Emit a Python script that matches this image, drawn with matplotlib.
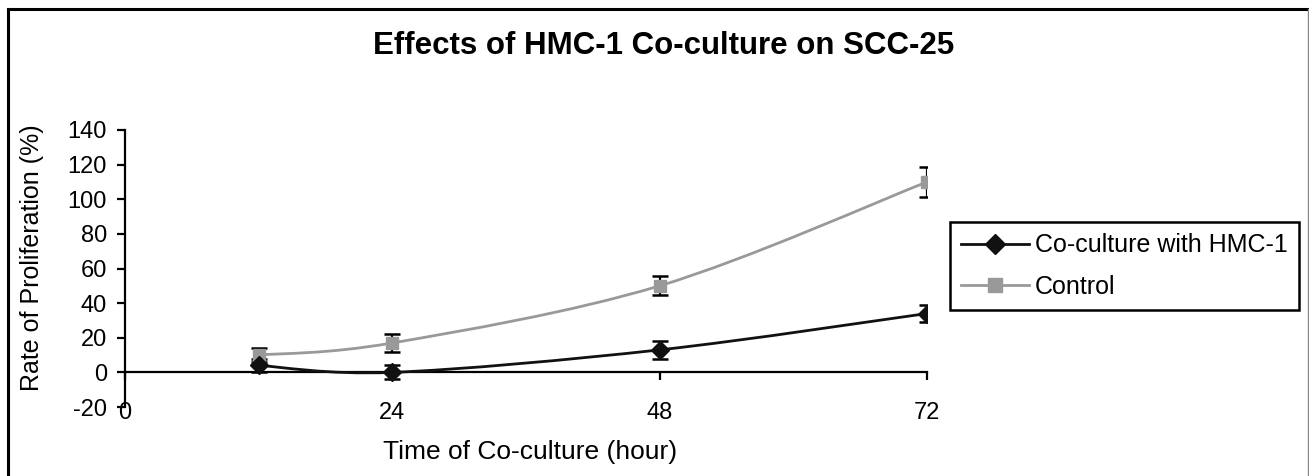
import numpy as np
import matplotlib
matplotlib.use('Agg')
import matplotlib.pyplot as plt
from matplotlib.path import Path
from matplotlib.patches import PathPatch
from matplotlib.lines import Line2D

hours = [12, 24, 48, 72]
coculture = [4, 0, 13, 34]
coculture_err = [4, 4, 5, 5]
control = [10, 17, 50, 110]
control_err = [4, 5, 5.5, 8.5]

FONT = ['Liberation Sans', 'DejaVu Sans']


def smooth_path(xs, ys):
    # Excel style smoothed line: cubic bezier with 1/6 tangents
    pts = np.column_stack([xs, ys]).astype(float)
    n = len(pts)
    verts = [pts[0]]
    codes = [Path.MOVETO]
    for i in range(n - 1):
        p_prev = pts[max(i - 1, 0)]
        p0 = pts[i]
        p1 = pts[i + 1]
        p_next = pts[min(i + 2, n - 1)]
        c1 = p0 + (p1 - p_prev) / 6.0
        c2 = p1 - (p_next - p0) / 6.0
        verts += [c1, c2, p1]
        codes += [Path.CURVE4] * 3
    return Path(verts, codes)


def draw_series(ax, ys, err, color, marker, ms):
    path = smooth_path(hours, ys)
    ax.add_patch(PathPatch(path, facecolor='none', edgecolor=color,
                           linewidth=2.0, zorder=3))
    ax.errorbar(hours, ys, yerr=err, fmt='none', ecolor='black',
                elinewidth=1.6, capsize=6, capthick=1.8, zorder=4)
    ax.plot(hours, ys, linestyle='none', marker=marker, markersize=ms,
            color=color, markeredgecolor=color, zorder=5)


fig = plt.figure(figsize=(13.09, 4.76), dpi=100)
ax = fig.add_axes([125 / 1309, 1 - 407 / 476, 802 / 1309, 277 / 476])

draw_series(ax, control, control_err, '#999999', 's', 9)
draw_series(ax, coculture, coculture_err, '#111111', 'D', 9)

ax.set_xlim(0, 72)
ax.set_ylim(-20, 140)
ax.set_xticks([0, 24, 48, 72])
ax.set_yticks(np.arange(-20, 141, 20))
ax.set_yticklabels([str(v) for v in np.arange(-20, 141, 20)])
ax.spines['top'].set_visible(False)
ax.spines['right'].set_visible(False)
ax.spines['bottom'].set_position(('data', 0))
ax.spines['bottom'].set_linewidth(1.6)
ax.spines['left'].set_linewidth(1.6)
ax.spines['bottom'].set_zorder(2)
ax.tick_params(axis='x', direction='out', length=6, width=1.6,
               pad=15, labelsize=17)
ax.tick_params(axis='y', direction='out', length=6, width=1.6,
               pad=7, labelsize=17)
for lab in ax.get_xticklabels() + ax.get_yticklabels():
    lab.set_family(FONT)
ax.patch.set_alpha(0)

fig.text(664 / 1309, 1 - 46 / 476, 'Effects of HMC-1 Co-culture on SCC-25',
         ha='center', va='center', fontsize=22.5, fontweight='bold',
         family=FONT)
fig.text(530 / 1309, 1 - 452 / 476, 'Time of Co-culture (hour)',
         ha='center', va='center', fontsize=19, family=FONT)
fig.text(32 / 1309, 1 - 258 / 476, 'Rate of Proliferation (%)',
         ha='center', va='center', rotation=90, fontsize=18, family=FONT)

handles = [
    Line2D([], [], color='#111111', linewidth=2.0, marker='D', markersize=10),
    Line2D([], [], color='#999999', linewidth=2.0, marker='s', markersize=10),
]
leg = fig.legend(handles, ['Co-culture with HMC-1', 'Control'],
                 loc='upper left', bbox_to_anchor=(950 / 1309, 1 - 222 / 476),
                 fancybox=False, shadow=False, framealpha=1,
                 edgecolor='black', handlelength=2.7, handletextpad=0.25,
                 borderpad=0.45, labelspacing=0.7, borderaxespad=0,
                 prop={'family': FONT, 'size': 18})
leg.get_frame().set_linewidth(1.8)

# outer chart border
fig.add_artist(Line2D([8 / 1309, 8 / 1309], [0, 1 - 9 / 476],
                      transform=fig.transFigure, color='black', linewidth=2.2))
fig.add_artist(Line2D([8 / 1309, 1307 / 1309], [1 - 9 / 476, 1 - 9 / 476],
                      transform=fig.transFigure, color='black', linewidth=2.2))
fig.add_artist(Line2D([1307.5 / 1309, 1307.5 / 1309], [0, 1 - 9 / 476],
                      transform=fig.transFigure, color='#888888', linewidth=1))

fig.savefig('out.png', dpi=100)
